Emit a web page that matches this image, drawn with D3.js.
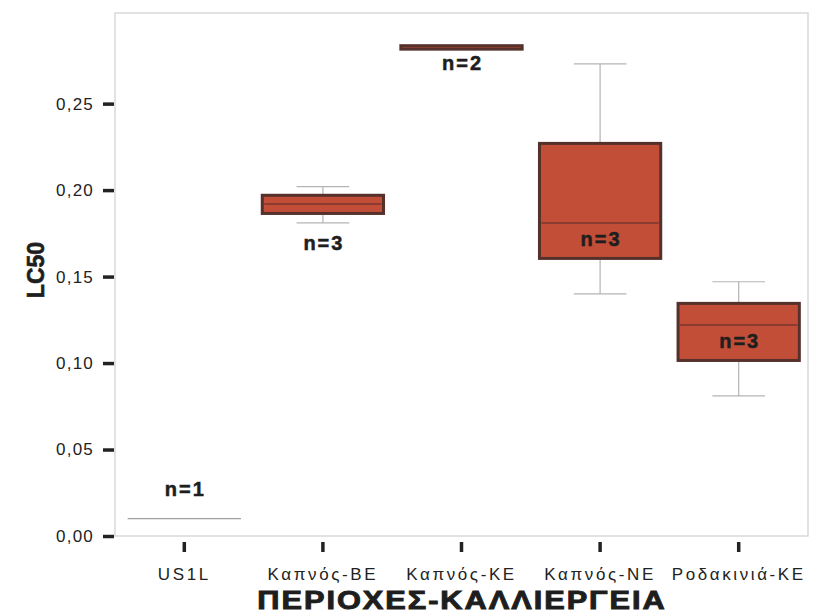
<!DOCTYPE html>
<html>
<head>
<meta charset="utf-8">
<script src="https://cdn.jsdelivr.net/npm/d3@7"></script>
<style>
  html, body { margin: 0; padding: 0; background: #fff; }
  svg { display: block; font-family: "Liberation Sans", Arial, sans-serif; }
</style>
</head>
<body>
<svg id="chart" width="816" height="614"></svg>
<script>
// Regions / crops on the x axis
const categories = ["US1L", "Καπνός-ΒΕ", "Καπνός-ΚΕ", "Καπνός-ΝΕ", "Ροδακινιά-ΚΕ"];

// LC50 observations per group
const us1lValues = [0.010];
const kapnosBEValues = [0.181, 0.192, 0.202];
const kapnosKEValues = [0.2815, 0.2835];
const kapnosNEValues = [0.140, 0.181, 0.273];
const rodakiniaKEValues = [0.081, 0.122, 0.147];

const yTickValues = [0, 0.05, 0.10, 0.15, 0.20, 0.25];

const groups = [us1lValues, kapnosBEValues, kapnosKEValues, kapnosNEValues, rodakiniaKEValues];

// Tukey hinges (as used by the boxplot procedure)
function summary(values) {
  const s = values.slice().sort(d3.ascending);
  const n = s.length;
  const med = d3.median(s);
  const half = Math.ceil(n / 2);
  const lower = n === 1 ? s : s.slice(0, half);
  const upper = n === 1 ? s : s.slice(n - half);
  return { n, min: s[0], max: s[n - 1], q1: d3.median(lower), q3: d3.median(upper), median: med };
}

const stats = categories.map((c, i) => Object.assign({ cat: c }, summary(groups[i])));

const svg = d3.select("#chart");
const plot = { left: 115, right: 808, top: 13, bottom: 536 };

const x = d3.scaleBand().domain(categories).range([plot.left, plot.right]).padding(0);
const y = d3.scaleLinear().domain([0, 0.3024]).range([plot.bottom, plot.top]);

// Plot frame
svg.append("rect")
  .attr("x", plot.left).attr("y", plot.top)
  .attr("width", plot.right - plot.left).attr("height", plot.bottom - plot.top)
  .attr("fill", "#fff").attr("stroke", "#cfcfcf").attr("stroke-width", 1.2);

const comma = v => d3.format(".2f")(v).replace(".", ",");

// Y axis
const yAxis = svg.append("g")
  .attr("transform", `translate(${plot.left - 1},0)`)
  .call(d3.axisLeft(y).tickValues(yTickValues).tickFormat(comma).tickSize(11).tickPadding(9));
yAxis.select(".domain").remove();
yAxis.selectAll(".tick line").attr("stroke", "#222").attr("stroke-width", 3.5);
yAxis.selectAll(".tick text").attr("fill", "#222").style("font-size", "17px")
  .style("letter-spacing", "1.2px")
  .style("font-family", "Liberation Sans, Arial, sans-serif");

// X axis
const xAxis = svg.append("g")
  .attr("transform", `translate(0,${plot.bottom + 6})`)
  .call(d3.axisBottom(x).tickSize(10).tickPadding(16));
xAxis.select(".domain").remove();
xAxis.selectAll(".tick line").attr("stroke", "#222").attr("stroke-width", 3.5);
xAxis.selectAll(".tick text").attr("fill", "#222").style("font-size", "17px")
  .style("letter-spacing", "2.6px")
  .style("font-family", "Liberation Sans, Arial, sans-serif");

const boxW = x.bandwidth() * 0.875;
const capW = x.bandwidth() * 0.38;

const g = svg.append("g");
stats.forEach(d => {
  const cx = x(d.cat) + x.bandwidth() / 2;
  const gg = g.append("g");
  if (d.n === 1) {
    gg.append("line")
      .attr("x1", cx - boxW / 2 + 4).attr("x2", cx + boxW / 2 - 4)
      .attr("y1", y(d.median)).attr("y2", y(d.median))
      .attr("stroke", "#a0a0a0").attr("stroke-width", 1.2);
  } else {
    // whiskers
    [[d.max, d.q3], [d.min, d.q1]].forEach(([w, h]) => {
      if (w !== h) {
        gg.append("line").attr("x1", cx).attr("x2", cx)
          .attr("y1", y(w)).attr("y2", y(h))
          .attr("stroke", "#b4b4b4").attr("stroke-width", 1.2);
        gg.append("line").attr("x1", cx - capW / 2).attr("x2", cx + capW / 2)
          .attr("y1", y(w)).attr("y2", y(w))
          .attr("stroke", "#b4b4b4").attr("stroke-width", 1.2);
      }
    });
    // box
    gg.append("rect")
      .attr("x", cx - boxW / 2).attr("width", boxW)
      .attr("y", y(d.q3)).attr("height", Math.max(0.5, y(d.q1) - y(d.q3)))
      .attr("fill", "#c24e38").attr("stroke", "#56302b").attr("stroke-width", 3);
    // median
    if (y(d.q1) - y(d.q3) > 8) {
      gg.append("line")
        .attr("x1", cx - boxW / 2 + 2).attr("x2", cx + boxW / 2 - 2)
        .attr("y1", y(d.median)).attr("y2", y(d.median))
        .attr("stroke", "#8c3b30").attr("stroke-width", 2);
    }
  }
  // n label: inside tall boxes, under the lower whisker otherwise, above if no room
  const boxH = y(d.q1) - y(d.q3);
  let ly;
  if (boxH > 30) ly = y(d.median) + 16;
  else if (y(d.min) + 40 < plot.bottom) ly = y(d.min) + (boxH > 8 ? 20 : 14);
  else ly = y(d.median) - 30;
  gg.append("text")
    .attr("x", cx + 1).attr("y", ly).attr("dy", "0.35em")
    .attr("text-anchor", "middle")
    .attr("fill", "#1e1e1e").attr("stroke", "#1e1e1e").attr("stroke-width", 0.5)
    .style("font-size", "20px").style("font-weight", "bold")
    .style("letter-spacing", "2px")
    .text("n=" + d.n);
});

// Axis titles
svg.append("text")
  .attr("transform", "translate(36,270) rotate(-90)")
  .attr("text-anchor", "middle").attr("dy", "0.35em")
  .attr("fill", "#1e1e1e").attr("stroke", "#1e1e1e").attr("stroke-width", 0.6)
  .style("font-size", "23px").style("font-weight", "bold")
  .text("LC50");

svg.append("text")
  .attr("transform", "translate(462,608.5) scale(1.23,1)")
  .attr("text-anchor", "middle")
  .attr("fill", "#1e1e1e").attr("stroke", "#1e1e1e").attr("stroke-width", 0.9)
  .style("font-size", "25px").style("font-weight", "bold")
  .style("letter-spacing", "1.6px")
  .text("ΠΕΡΙΟΧΕΣ-ΚΑΛΛΙΕΡΓΕΙΑ");
</script>
</body>
</html>
